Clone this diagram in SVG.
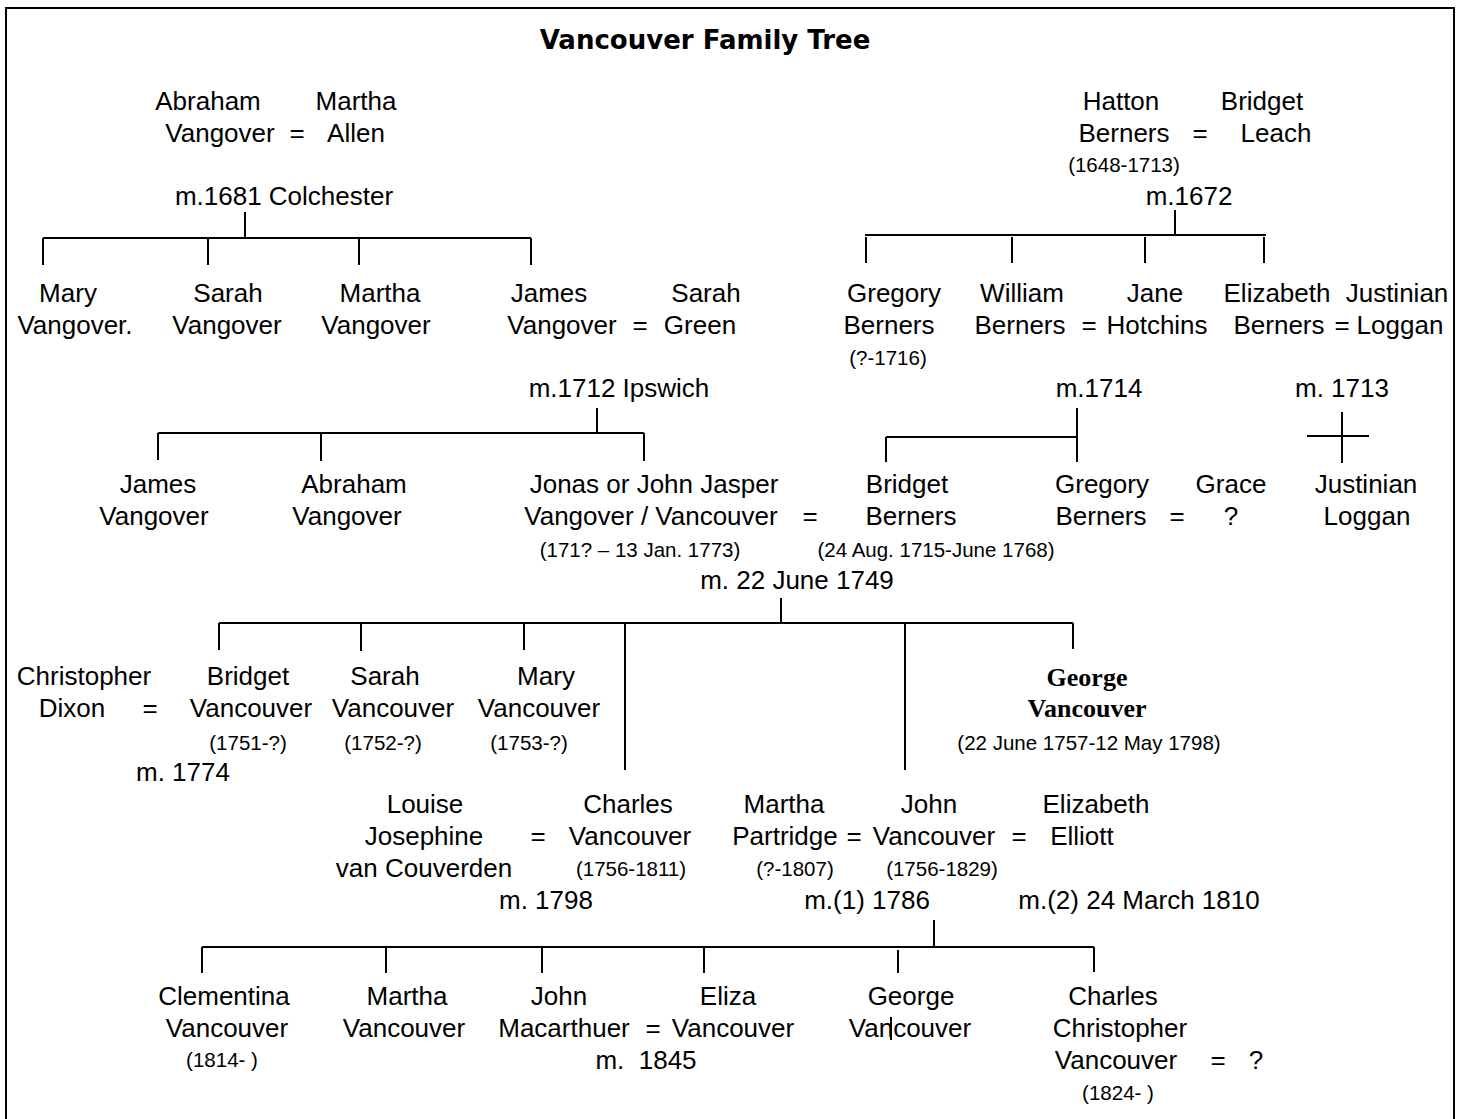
<svg xmlns="http://www.w3.org/2000/svg" width="1461" height="1119" viewBox="0 0 1461 1119">
<style>
text{font-family:"Liberation Sans",Arial,sans-serif;font-size:26px;fill:#000;text-anchor:middle}
.s{font-size:20.5px}
.t{font-family:"DejaVu Sans",Verdana,sans-serif;font-weight:bold;font-size:26px}
.b{font-family:"Liberation Serif","Times New Roman",serif;font-weight:bold;font-size:26px}
.ln{stroke:#000;stroke-width:2;fill:none}
</style>
<rect x="6" y="8" width="1448" height="1130" fill="#fff" stroke="#000" stroke-width="2"/>
<text class="t" x="705" y="49">Vancouver Family Tree</text>

<g id="connectors" class="ln">
<path d="M245 212V238M43 238H531M43 238V265M208 238V265M359 238V265M531 238V265"/>
<path d="M1175 210V235M865 235H1266M866 237V263M1012 237V263M1145 237V263M1264 237V263"/>
<path d="M597 408V433M158 433H644M158 433V460M321 433V461M644 433V461"/>
<path d="M1077 408V462M886 437H1077M886 437V462"/>
<path d="M1342 412V463M1307 436H1369"/>
<path d="M781 598V623M219 623H1073M219 623V650M361 623V651M524 623V650M625 623V770M905 623V770M1073 623V649"/>
<path d="M934 920V947M202 947H1094M202 947V973M386 947V973M542 947V973M704 947V973M898 950V973M1094 947V972"/>
<path d="M891 1017V1040"/>
</g>

<g id="abraham-vangover"><text x="208" y="110">Abraham</text><text x="220" y="142">Vangover</text></g>
<g id="m-1681"><text x="297" y="142">=</text><text x="284" y="205">m.1681 Colchester</text></g>
<g id="martha-allen"><text x="356" y="110">Martha</text><text x="356" y="142">Allen</text></g>

<g id="hatton-berners"><text x="1121" y="110">Hatton</text><text x="1124" y="142">Berners</text><text class="s" x="1124" y="172">(1648-1713)</text></g>
<g id="m-1672"><text x="1200" y="142">=</text><text x="1189" y="205">m.1672</text></g>
<g id="bridget-leach"><text x="1262" y="110">Bridget</text><text x="1276" y="142">Leach</text></g>

<g id="mary-vangover"><text x="68" y="302">Mary</text><text x="75" y="334">Vangover.</text></g>
<g id="sarah-vangover"><text x="228" y="302">Sarah</text><text x="227" y="334">Vangover</text></g>
<g id="martha-vangover"><text x="380" y="302">Martha</text><text x="376" y="334">Vangover</text></g>
<g id="james-vangover"><text x="549" y="302">James</text><text x="562" y="334">Vangover</text></g>
<g id="m-1712"><text x="640" y="334">=</text><text x="619" y="397">m.1712 Ipswich</text></g>
<g id="sarah-green"><text x="706" y="302">Sarah</text><text x="700" y="334">Green</text></g>

<g id="gregory-berners-sr"><text x="894" y="302">Gregory</text><text x="889" y="334">Berners</text><text class="s" x="888" y="365">(?-1716)</text></g>
<g id="william-berners"><text x="1022" y="302">William</text><text x="1020" y="334">Berners</text></g>
<g id="m-1714"><text x="1089" y="334">=</text><text x="1099" y="397">m.1714</text></g>
<g id="jane-hotchins"><text x="1155" y="302">Jane</text><text x="1157" y="334">Hotchins</text></g>
<g id="elizabeth-berners"><text x="1277" y="302">Elizabeth</text><text x="1279" y="334">Berners</text></g>
<g id="m-1713"><text x="1342" y="334">=</text><text x="1342" y="397">m. 1713</text></g>
<g id="justinian-loggan-sr"><text x="1397" y="302">Justinian</text><text x="1400" y="334">Loggan</text></g>

<g id="james-vangover-jr"><text x="158" y="493">James</text><text x="154" y="525">Vangover</text></g>
<g id="abraham-vangover-jr"><text x="354" y="493">Abraham</text><text x="347" y="525">Vangover</text></g>
<g id="jonas-vancouver"><text x="654" y="493">Jonas or John Jasper</text><text x="651" y="525">Vangover / Vancouver</text><text class="s" x="640" y="557">(171? – 13 Jan. 1773)</text></g>
<g id="m-1749"><text x="810" y="525">=</text><text x="797" y="589">m. 22 June 1749</text></g>
<g id="bridget-berners"><text x="907" y="493">Bridget</text><text x="911" y="525">Berners</text><text class="s" x="936" y="557">(24 Aug. 1715-June 1768)</text></g>
<g id="gregory-berners"><text x="1102" y="493">Gregory</text><text x="1101" y="525">Berners</text></g>
<g id="m-gregory-grace"><text x="1177" y="525">=</text></g>
<g id="grace"><text x="1231" y="493">Grace</text><text x="1231" y="525">?</text></g>
<g id="justinian-loggan"><text x="1366" y="493">Justinian</text><text x="1367" y="525">Loggan</text></g>

<g id="christopher-dixon"><text x="84" y="685">Christopher</text><text x="72" y="717">Dixon</text></g>
<g id="m-1774"><text x="150" y="717">=</text><text x="183" y="781">m. 1774</text></g>
<g id="bridget-vancouver"><text x="248" y="685">Bridget</text><text x="251" y="717">Vancouver</text><text class="s" x="248" y="750">(1751-?)</text></g>
<g id="sarah-vancouver"><text x="385" y="685">Sarah</text><text x="393" y="717">Vancouver</text><text class="s" x="383" y="750">(1752-?)</text></g>
<g id="mary-vancouver"><text x="546" y="685">Mary</text><text x="539" y="717">Vancouver</text><text class="s" x="529" y="750">(1753-?)</text></g>
<g id="george-vancouver"><text class="b" x="1087" y="686">George</text><text class="b" x="1087" y="717">Vancouver</text><text class="s" x="1089" y="750">(22 June 1757-12 May 1798)</text></g>

<g id="louise-van-couverden"><text x="425" y="813">Louise</text><text x="424" y="845">Josephine</text><text x="424" y="877">van Couverden</text></g>
<g id="m-1798"><text x="538" y="845">=</text><text x="546" y="909">m. 1798</text></g>
<g id="charles-vancouver"><text x="628" y="813">Charles</text><text x="630" y="845">Vancouver</text><text class="s" x="631" y="876">(1756-1811)</text></g>
<g id="martha-partridge"><text x="784" y="813">Martha</text><text x="785" y="845">Partridge</text><text class="s" x="795" y="876">(?-1807)</text></g>
<g id="m-1786"><text x="854" y="845">=</text><text x="867" y="909">m.(1) 1786</text></g>
<g id="john-vancouver"><text x="929" y="813">John</text><text x="934" y="845">Vancouver</text><text class="s" x="942" y="876">(1756-1829)</text></g>
<g id="m-1810"><text x="1019" y="845">=</text><text x="1139" y="909">m.(2) 24 March 1810</text></g>
<g id="elizabeth-elliott"><text x="1096" y="813">Elizabeth</text><text x="1082" y="845">Elliott</text></g>

<g id="clementina-vancouver"><text x="224" y="1005">Clementina</text><text x="227" y="1037">Vancouver</text><text class="s" x="222" y="1067">(1814- )</text></g>
<g id="martha-vancouver"><text x="407" y="1005">Martha</text><text x="404" y="1037">Vancouver</text></g>
<g id="john-macarthuer"><text x="559" y="1005">John</text><text x="564" y="1037">Macarthuer</text></g>
<g id="m-1845"><text x="653" y="1037">=</text><text x="646" y="1069" xml:space="preserve">m.  1845</text></g>
<g id="eliza-vancouver"><text x="728" y="1005">Eliza</text><text x="733" y="1037">Vancouver</text></g>
<g id="george-vancouver-jr"><text x="911" y="1005">George</text><text x="910" y="1037">Vancouver</text></g>
<g id="charles-christopher-vancouver"><text x="1113" y="1005">Charles</text><text x="1120" y="1037">Christopher</text><text x="1116" y="1069">Vancouver</text><text class="s" x="1118" y="1100">(1824- )</text></g>
<g id="m-charles-christopher"><text x="1218" y="1069">=</text><text x="1256" y="1069">?</text></g>
</svg>
